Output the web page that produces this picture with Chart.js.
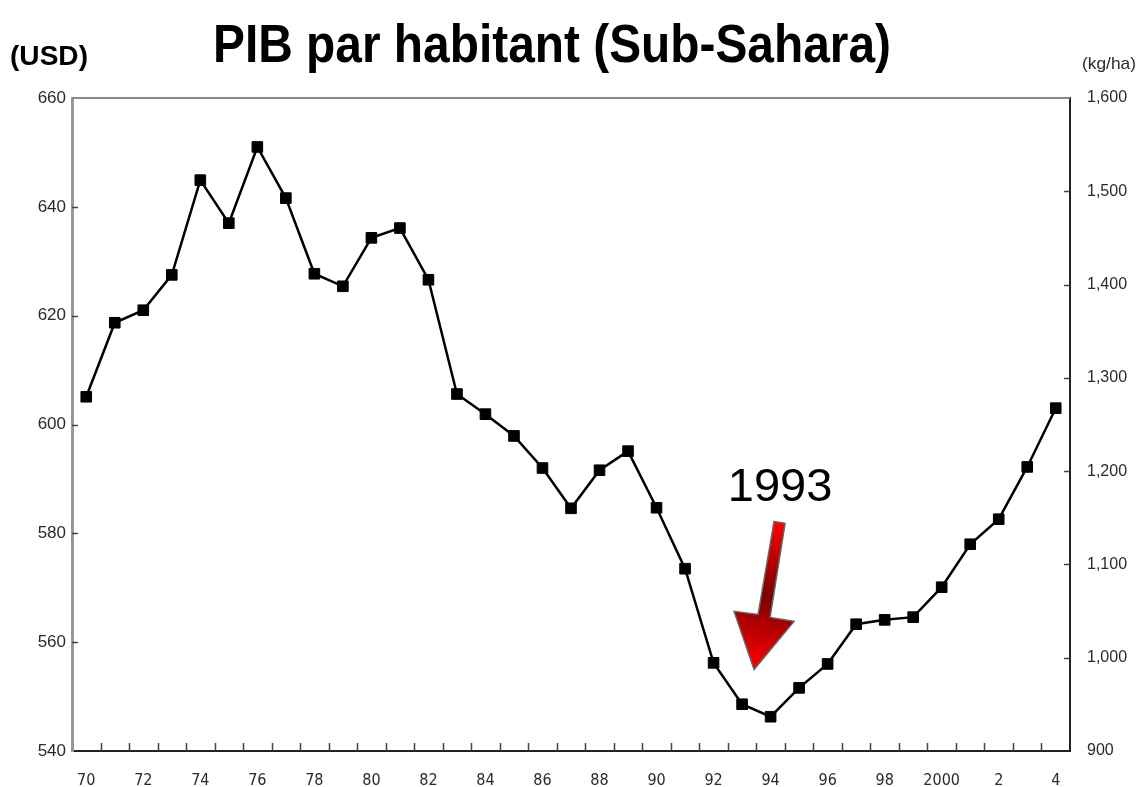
<!DOCTYPE html>
<html>
<head>
<meta charset="utf-8">
<script src="https://cdn.jsdelivr.net/npm/chart.js@4"></script>
<style>
    html, body { margin: 0; padding: 0; background: #fff; }
    #wrap { width: 1139px; height: 787px; position: relative; }
</style>
</head>
<body>
<div id="wrap"><canvas id="pib-chart"></canvas></div>
<script>
// Years (category axis) and GDP per capita values (USD)
const years = [1970, 1971, 1972, 1973, 1974, 1975, 1976, 1977, 1978, 1979,
    1980, 1981, 1982, 1983, 1984, 1985, 1986, 1987, 1988, 1989,
    1990, 1991, 1992, 1993, 1994, 1995, 1996, 1997, 1998, 1999,
    2000, 2001, 2002, 2003, 2004];
const yearLabels = ['70', '', '72', '', '74', '', '76', '', '78', '',
    '80', '', '82', '', '84', '', '86', '', '88', '',
    '90', '', '92', '', '94', '', '96', '', '98', '',
    '2000', '', '2', '', '4'];
const pibValues = [605.1, 618.7, 621.0, 627.5, 644.9, 637.0, 651.0, 641.6, 627.7, 625.4,
    634.3, 636.1, 626.6, 605.6, 601.9, 597.9, 592.0, 584.6, 591.6, 595.1,
    584.7, 573.5, 556.2, 548.6, 546.3, 551.6, 556.0, 563.3, 564.1, 564.6,
    570.1, 578.0, 582.6, 592.2, 603.0];

// Axis ranges
const leftRange = { min: 540, max: 660, step: 20 };
const rightRange = { min: 900, max: 1600, step: 100 };

const titleText = 'PIB par habitant (Sub-Sahara)';
const leftUnit = '(USD)';
const rightUnit = '(kg/ha)';
const markYear = 1993;

const labelColor = '#2a2a2a';

// Draws inward tick marks, top frame line, titles and the 1993 arrow
const decorPlugin = {
    id: 'decor',
    afterDraw(chart) {
        const { ctx, chartArea: area, scales } = chart;
        const x = scales.x, y = scales.y, y2 = scales.y2;
        ctx.save();

        // top frame line
        ctx.strokeStyle = '#888';
        ctx.lineWidth = 2;
        ctx.beginPath();
        ctx.moveTo(area.left, area.top);
        ctx.lineTo(area.right, area.top);
        ctx.stroke();

        // bottom ticks between categories
        ctx.strokeStyle = '#444';
        ctx.lineWidth = 1.5;
        ctx.beginPath();
        for (let i = 0; i < years.length - 1; i++) {
            const px = Math.round((x.getPixelForValue(i) + x.getPixelForValue(i + 1)) / 2) + 0.5;
            ctx.moveTo(px, area.bottom);
            ctx.lineTo(px, area.bottom - 8);
        }
        // left ticks
        for (let v = leftRange.min + leftRange.step; v < leftRange.max; v += leftRange.step) {
            const py = Math.round(y.getPixelForValue(v)) + 0.5;
            ctx.moveTo(area.left, py);
            ctx.lineTo(area.left + 6, py);
        }
        // right ticks
        for (let v = rightRange.min + rightRange.step; v < rightRange.max; v += rightRange.step) {
            const py = Math.round(y2.getPixelForValue(v)) + 0.5;
            ctx.moveTo(area.right, py);
            ctx.lineTo(area.right - 6, py);
        }
        ctx.stroke();

        // titles (condensed)
        ctx.fillStyle = '#000';
        ctx.textBaseline = 'alphabetic';
        ctx.textAlign = 'left';
        const drawSqueezed = (text, font, cx, baseline, width) => {
            ctx.font = font;
            const w = ctx.measureText(text).width;
            const s = width / w;
            ctx.save();
            ctx.translate(cx - width / 2, baseline);
            ctx.scale(s, 1);
            ctx.fillText(text, 0, 0);
            ctx.restore();
        };
        drawSqueezed(titleText, 'bold 54px "Liberation Sans", Arial, sans-serif', 552, 62, 678);
        drawSqueezed(leftUnit, 'bold 27px "Liberation Sans", Arial, sans-serif', 49, 65, 78);
        ctx.fillStyle = labelColor;
        drawSqueezed(rightUnit, '17px "Liberation Sans", Arial, sans-serif', 1109, 69, 54);

        // 1993 annotation
        const idx = years.indexOf(markYear);
        const tipX = x.getPixelForValue(idx) + 12;
        const tipY = y.getPixelForValue(555);
        ctx.fillStyle = '#000';
        ctx.font = '47px "Liberation Sans", Arial, sans-serif';
        ctx.textAlign = 'center';
        ctx.fillText(String(markYear), tipX + 26, tipY - 168);

        // red arrow (shaft tilted, pointing down-left)
        const grad = ctx.createLinearGradient(tipX + 25, tipY - 148, tipX, tipY);
        grad.addColorStop(0, '#ff0000');
        grad.addColorStop(0.5, '#7a0000');
        grad.addColorStop(1, '#ff0000');
        ctx.fillStyle = grad;
        ctx.strokeStyle = '#666';
        ctx.lineWidth = 1.5;
        ctx.beginPath();
        ctx.moveTo(tipX + 20, tipY - 148);
        ctx.lineTo(tipX + 31, tipY - 146);
        ctx.lineTo(tipX + 16, tipY - 52);
        ctx.lineTo(tipX + 40, tipY - 48);
        ctx.lineTo(tipX, tipY);
        ctx.lineTo(tipX - 20, tipY - 58);
        ctx.lineTo(tipX + 4, tipY - 55);
        ctx.closePath();
        ctx.fill();
        ctx.stroke();

        ctx.restore();
    }
};

new Chart(document.getElementById('pib-chart'), {
    type: 'line',
    data: {
        labels: years,
        datasets: [{
            label: 'PIB par habitant',
            data: pibValues,
            borderColor: '#000',
            borderWidth: 2.5,
            backgroundColor: '#000',
            pointStyle: 'rect',
            pointRadius: 7.5,
            pointBorderWidth: 1,
            pointBorderColor: '#000',
            pointBackgroundColor: '#000',
            tension: 0,
            yAxisID: 'y'
        }]
    },
    options: {
        responsive: true,
        maintainAspectRatio: false,
        animation: false,
        layout: { padding: { top: 98, left: 0, right: 0, bottom: 0 } },
        plugins: {
            legend: { display: false },
            tooltip: { enabled: false }
        },
        scales: {
            x: {
                type: 'category',
                offset: true,
                grid: { display: false, drawTicks: false, offset: true },
                border: { display: true, color: '#222', width: 2 },
                ticks: {
                    autoSkip: false,
                    maxRotation: 0,
                    padding: 20,
                    color: labelColor,
                    font: { family: '"Liberation Sans Narrow", "DejaVu Sans Condensed", sans-serif', size: 16 },
                    callback: (value, index) => yearLabels[index]
                },
                afterFit: (scale) => { scale.height = 36; }
            },
            y: {
                position: 'left',
                min: leftRange.min,
                max: leftRange.max,
                grid: { display: false, drawTicks: false },
                border: { display: true, color: '#999', width: 3 },
                ticks: {
                    stepSize: leftRange.step,
                    padding: 6,
                    color: labelColor,
                    font: { family: '"Liberation Sans", Arial, sans-serif', size: 17 }
                },
                afterFit: (scale) => { scale.width = 72; }
            },
            y2: {
                position: 'right',
                min: rightRange.min,
                max: rightRange.max,
                grid: { display: false, drawTicks: false },
                border: { display: true, color: '#222', width: 2 },
                ticks: {
                    stepSize: rightRange.step,
                    padding: 17,
                    color: labelColor,
                    font: { family: '"Liberation Sans", Arial, sans-serif', size: 16 },
                    callback: (v) => v.toLocaleString('en-US')
                },
                afterFit: (scale) => { scale.width = 69; }
            }
        }
    },
    plugins: [decorPlugin]
});
</script>
</body>
</html>
